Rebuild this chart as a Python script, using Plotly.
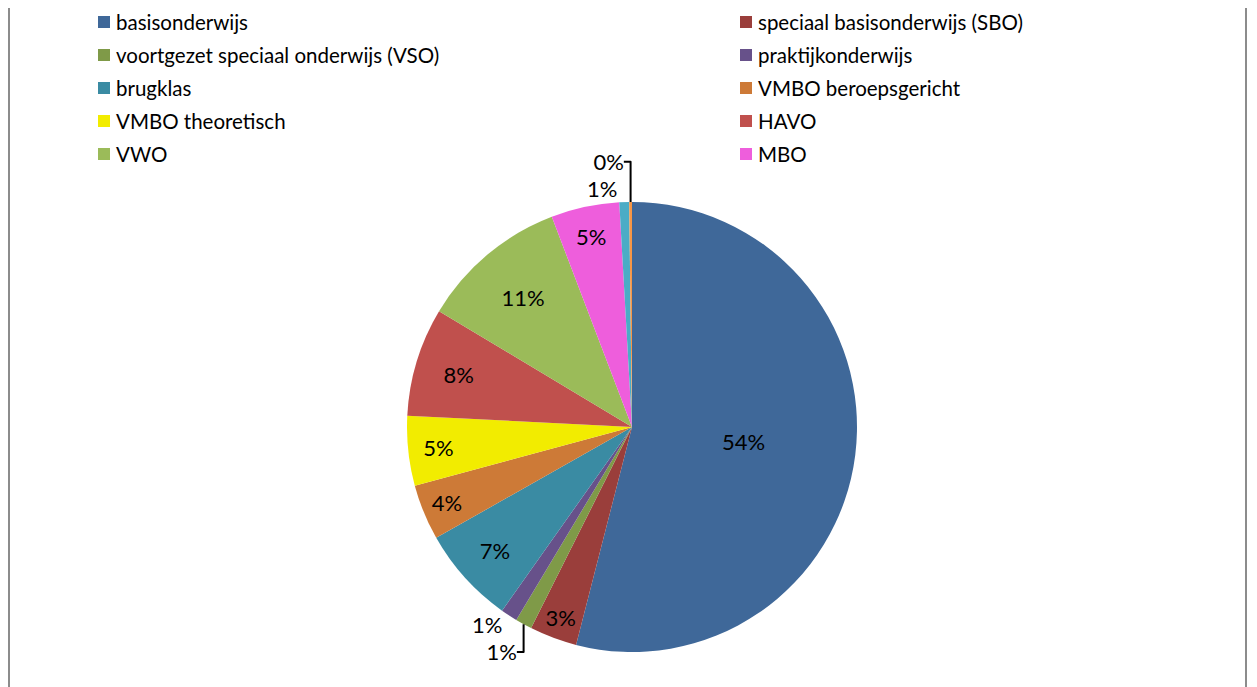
import plotly.graph_objects as go

labels = [
    "basisonderwijs",
    "speciaal basisonderwijs (SBO)",
    "voortgezet speciaal onderwijs (VSO)",
    "praktijkonderwijs",
    "brugklas",
    "VMBO beroepsgericht",
    "VMBO theoretisch",
    "HAVO",
    "VWO",
    "MBO",
    "HBO",
    "WO",
]
values = [54.0, 3.4, 1.2, 1.2, 7.0, 4.0, 5.0, 7.8, 10.6, 4.9, 0.7, 0.2]
colors = [
    "#3F6899", "#9A3E3B", "#7F9A48", "#67518A", "#3A8BA3", "#CD7A37",
    "#F2EC00", "#C0504D", "#9BBB59", "#EE5EDC", "#4BACC6", "#F79646",
]
legend_count = 10  # entries visible in the legend

text_pos = ["inside" if v >= 3 else "outside" for v in values]

FONT = "Lato, Liberation Sans, sans-serif"
W, H = 1257, 687
OFF = 8  # page body margin in pixels


def px(x):
    return (x - OFF) / W


def py(y):
    return 1 - (y - OFF) / H


fig = go.Figure()
fig.add_trace(go.Pie(
    labels=labels,
    values=values,
    sort=False,
    direction="clockwise",
    rotation=0,
    marker=dict(colors=colors, line=dict(width=0)),
    texttemplate="%{percent:.0%}",
    textposition=text_pos,
    insidetextorientation="horizontal",
    textfont=dict(family=FONT, size=22, color="#000000"),
    showlegend=False,
    automargin=False,
    domain=dict(x=[px(632 - 400), px(632 + 400)], y=[py(652), py(202)]),
    hoverinfo="label+percent",
))

annotations = []
shapes = []
col_sw = [98, 740]
row_y0 = 22
row_dy = 33
for i in range(legend_count):
    col = i % 2
    row = i // 2
    yc = row_y0 + row * row_dy
    sx = col_sw[col]
    shapes.append(dict(
        type="rect", xref="paper", yref="paper",
        x0=px(sx), x1=px(sx + 12),
        y0=py(yc + 6), y1=py(yc - 6),
        fillcolor=colors[i], line=dict(width=0),
    ))
    annotations.append(dict(
        xref="paper", yref="paper",
        x=px(sx + 16), y=py(yc),
        xanchor="left", yanchor="middle",
        text=labels[i], showarrow=False,
        font=dict(family=FONT, size=20.5, color="#000000"),
    ))

# outer chart border (left/right edges visible)
for xs in [OFF + 1, 1246]:
    shapes.append(dict(
        type="line", xref="paper", yref="paper",
        x0=px(xs), x1=px(xs), y0=0, y1=1,
        line=dict(color="#8C8C8C", width=2),
    ))

fig.update_layout(
    width=W,
    height=H,
    margin=dict(l=0, r=0, t=0, b=0),
    paper_bgcolor="#FFFFFF",
    plot_bgcolor="#FFFFFF",
    annotations=annotations,
    shapes=shapes,
    showlegend=False,
)

fig.write_html("out.html")
